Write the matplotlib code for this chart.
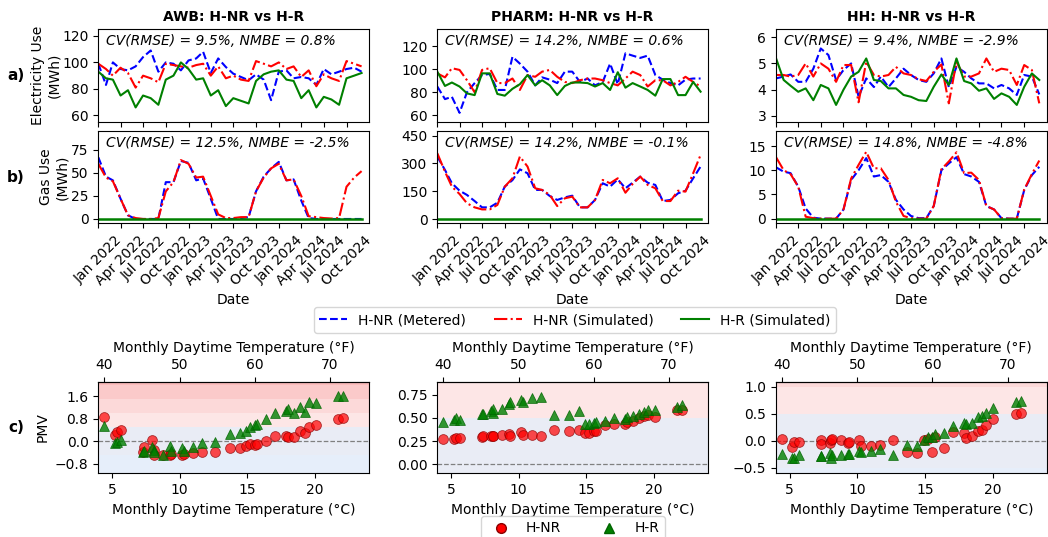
import numpy as np
import pandas as pd
import matplotlib
matplotlib.use("Agg")
import matplotlib.pyplot as plt
import matplotlib.dates as mdates
from matplotlib.lines import Line2D

plt.rcParams.update({
    "font.family": "DejaVu Sans",
    "font.size": 10,
    "axes.titlesize": 10,
    "axes.labelsize": 10,
    "xtick.labelsize": 10,
    "ytick.labelsize": 10,
    "legend.fontsize": 10,
})

# ---- monthly series, Jan 2022 .. Dec 2024 ----
dates = pd.date_range("2022-01-01", periods=36, freq="MS")

buildings = ["AWB", "PHARM", "HH"]

awb_elec_metered = [99, 83, 100, 95, 94, 97, 104, 109, 93, 100, 99, 94, 101.5, 103, 108, 92, 103, 96.5,
                    91.5, 89, 86.5, 91, 87, 71.5, 93, 94, 88, 89, 88, 83, 95, 91, 93, 95, 96, 93]
awb_elec_sim = [99, 95, 90, 96, 92, 81, 90, 88, 85, 99, 98, 97, 96, 98, 99, 90, 97, 88,
                90, 87, 86, 101, 99, 97, 100, 95, 97, 89, 94, 82, 91, 88, 86, 101, 99, 97]
awb_elec_hr = [93, 88, 87, 75, 79, 66, 75, 73, 68, 87, 90, 100, 95, 87, 88, 75, 79, 67,
               73, 71, 69, 86, 91, 93, 94, 87, 86, 73, 79, 66, 74, 72, 68, 88, 90, 92]

pharm_elec_metered = [85, 74, 76, 62, 80, 88, 95, 96, 82, 82, 111, 105, 98, 86, 93, 91, 88, 98,
                      98, 89, 92, 86, 89, 105, 87, 114, 112, 110, 112, 95, 91, 88, 86, 91, 92, 92]
pharm_elec_sim = [96.5, 93, 101, 99.5, 90.5, 80, 99.5, 101, 88, 88, 92, 82, 95, 93.5, 98, 99.5, 93.5, 89,
                  88, 90.5, 92, 92, 90.5, 88, 86, 92, 98, 95, 85, 90.5, 90.5, 86, 89, 93.5, 89, 85]
pharm_elec_hr = [98, 85.5, 88.5, 85, 79, 77.5, 96.5, 96.5, 78.5, 77, 83, 87, 95, 86, 90.5, 86, 77.5, 85.5,
                 88.5, 88.5, 88, 85, 88, 82, 97.5, 84, 88, 85, 82, 77, 91.5, 91.5, 77.5, 77.5, 89, 80.5]

hh_elec_metered = [4.43, 4.5, 4.58, 4.3, 4.3, 4.8, 5.57, 5.32, 4.37, 4.75, 5.0, 3.73, 4.43, 4.1, 4.5, 4.1, 4.43, 4.8,
                   4.56, 4.37, 4.3, 4.62, 5.19, 4.1, 4.87, 4.68, 4.43, 4.24, 4.24, 4.05, 4.18, 4.05, 3.8, 4.56, 4.5, 3.82]
hh_elec_sim = [4.56, 4.56, 4.5, 4.56, 5.0, 4.5, 5.0, 4.8, 4.3, 4.94, 4.94, 3.52, 5.06, 4.56, 4.5, 4.56, 4.87, 4.62,
               4.56, 4.4, 4.33, 4.68, 4.96, 3.48, 5.06, 4.5, 4.5, 4.62, 5.19, 4.68, 4.8, 4.75, 4.18, 4.94, 4.75, 3.48]
hh_elec_hr = [5.2, 4.37, 4.15, 3.92, 4.05, 3.6, 4.18, 4.05, 3.42, 4.0, 4.5, 4.68, 5.19, 4.37, 4.33, 4.05, 4.05, 3.8,
              3.73, 3.6, 3.57, 4.11, 4.58, 4.18, 5.19, 4.33, 4.24, 3.96, 4.05, 3.65, 3.86, 3.73, 3.42, 4.11, 4.62, 4.37]

awb_gas_metered = [67, 46, 42, 22, 4, 0, 0, 0, 0, 40, 40, 63, 61, 42, 44, 22, 0, 0,
                   0, 1, 2, 30, 46, 55, 62, 42, 43, 20, 1, 0, 0, 0, 0, 0, 0, 0]
awb_gas_sim = [60, 45, 41, 22, 4, 1, 0, 0, 1, 30, 40, 64, 60, 45, 46, 25, 5, 1,
               1, 2, 2, 30, 45, 55, 60, 42, 43, 25, 3, 2, 1, 0.5, 1, 35, 45, 52]

pharm_gas_metered = [337, 265, 193, 153, 130, 97, 63, 63, 88, 175, 210, 268, 247, 157, 157, 124, 103, 117,
                     126, 63, 63, 103, 193, 175, 214, 166, 196, 229, 196, 184, 97, 103, 139, 153, 220, 283]
pharm_gas_sim = [355, 256, 175, 135, 85, 63, 52, 52, 76, 175, 220, 337, 283, 166, 157, 130, 70, 112,
                 121, 63, 63, 103, 211, 193, 220, 142, 189, 229, 184, 166, 97, 97, 153, 148, 247, 346]

hh_gas_metered = [10.6, 9.7, 9.4, 6.6, 2.1, 0.2, 0, 0, 0, 1.9, 8.0, 10.0, 12.5, 8.7, 9.0, 7.6, 3.9, 1.9,
                  0.55, 0.1, 0.1, 2.6, 10.0, 11.4, 12.7, 9.2, 8.7, 7.6, 2.6, 1.9, 0.1, 0, 0, 5.9, 9.0, 10.7]
hh_gas_sim = [12.7, 10.0, 9.2, 6.6, 0.4, 0.1, 0, 0, 0, 1.9, 8.3, 11.1, 13.8, 10.4, 10.4, 8.0, 3.5, 0.55,
              0.1, 0, 0, 2.6, 10.2, 11.8, 13.7, 9.4, 9.5, 8.0, 2.6, 1.9, 0.1, 0, 0, 6.0, 9.2, 12.0]

elec_metrics = ["CV(RMSE) = 9.5%, NMBE = 0.8%", "CV(RMSE) = 14.2%, NMBE = 0.6%",
                "CV(RMSE) = 9.4%, NMBE = -2.9%"]
gas_metrics = ["CV(RMSE) = 12.5%, NMBE = -2.5%", "CV(RMSE) = 14.2%, NMBE = -0.1%",
               "CV(RMSE) = 14.8%, NMBE = -4.8%"]

# ---- PMV vs monthly daytime temperature ----
temp_c = [4.45, 5.2, 5.35, 5.7, 7.3, 7.35, 8.0, 8.1, 8.15, 8.8, 9.3, 9.4, 10.15, 10.3, 11.0, 11.65, 12.65,
          13.7, 14.45, 14.9, 15.2, 15.55, 15.75, 16.4, 17.05, 17.9, 18.05, 18.45, 18.9, 19.25, 19.55, 20.05,
          21.7, 22.1]

awb_pmv_hnr = [0.85, 0.23, 0.33, 0.40, -0.37, -0.19, 0.04, -0.31, -0.49, -0.49, -0.49, -0.45, -0.49, -0.46,
               -0.40, -0.37, -0.37, -0.25, -0.25, -0.17, -0.11, -0.13, -0.09, 0.0, 0.2, 0.2, 0.15, 0.14,
               0.37, 0.31, 0.5, 0.58, 0.81, 0.82]
awb_pmv_hr = [0.55, -0.07, -0.01, 0.05, -0.37, -0.33, -0.19, -0.31, -0.37, -0.49, -0.17, -0.35, -0.25, -0.33,
              -0.21, -0.07, -0.01, 0.25, 0.28, 0.38, 0.52, 0.58, 0.6, 0.78, 1.02, 1.09, 1.15, 1.0,
              1.21, 1.05, 1.39, 1.35, 1.61, 1.61]

pharm_pmv_hnr = [0.27, 0.27, 0.28, 0.28, 0.29, 0.31, 0.31, 0.31, 0.31, 0.32, 0.33, 0.31, 0.35, 0.32,
                 0.32, 0.31, 0.37, 0.36, 0.37, 0.34, 0.34, 0.36, 0.36, 0.42, 0.44, 0.43, 0.46, 0.47,
                 0.50, 0.52, 0.53, 0.51, 0.58, 0.59]
pharm_pmv_hr = [0.455, 0.48, 0.50, 0.48, 0.54, 0.54, 0.57, 0.55, 0.60, 0.60, 0.65, 0.67, 0.69, 0.67,
                0.715, 0.73, 0.53, 0.53, 0.57, 0.43, 0.43, 0.45, 0.455, 0.47, 0.50, 0.49, 0.51, 0.52,
                0.54, 0.56, 0.58, 0.59, 0.62, 0.64]

hh_pmv_hnr = [0.04, -0.12, -0.03, -0.02, 0.01, -0.06, -0.05, 0.01, 0.03, 0.02, -0.04, -0.02, 0.02, -0.10,
              -0.10, -0.08, 0.01, -0.20, -0.22, 0.01, 0.04, -0.21, 0.07, -0.14, 0.17, 0.15, 0.06, 0.09,
              0.18, 0.20, 0.29, 0.41, 0.49, 0.52]
hh_pmv_hr = [-0.25, -0.31, -0.31, -0.26, -0.28, -0.29, -0.23, -0.31, -0.26, -0.26, -0.25, -0.25, -0.18, -0.20,
             -0.18, -0.16, -0.26, -0.07, -0.10, 0.02, 0.07, 0.07, 0.12, 0.15, 0.27, 0.32, 0.31, 0.32,
             0.43, 0.45, 0.52, 0.60, 0.72, 0.74]

elec = [(awb_elec_metered, awb_elec_sim, awb_elec_hr),
        (pharm_elec_metered, pharm_elec_sim, pharm_elec_hr),
        (hh_elec_metered, hh_elec_sim, hh_elec_hr)]
gas = [(awb_gas_metered, awb_gas_sim),
       (pharm_gas_metered, pharm_gas_sim),
       (hh_gas_metered, hh_gas_sim)]
pmv = [(awb_pmv_hnr, awb_pmv_hr), (pharm_pmv_hnr, pharm_pmv_hr), (hh_pmv_hnr, hh_pmv_hr)]

elec_ylim = [(55, 125), (54, 135), (2.77, 6.3)]
elec_ticks = [[60, 80, 100, 120], [60, 80, 100, 120], [3, 4, 5, 6]]
gas_ylim = [(-4.7, 95.6), (-23, 475), (-0.96, 18.1)]
gas_ticks = [[0, 25, 50, 75], [0, 150, 300, 450], [0, 5, 10, 15]]
pmv_ylim = [(-1.14, 2.12), (-0.096, 0.89), (-0.6, 1.09)]
pmv_ticks = [[-0.8, 0.0, 0.8, 1.6], [0.0, 0.25, 0.5, 0.75], [-0.5, 0.0, 0.5, 1.0]]


def c2f(c):
    return c * 9.0 / 5.0 + 32.0


def f2c(f):
    return (f - 32.0) * 5.0 / 9.0


W, H = 1048, 537
fig = plt.figure(figsize=(W / 100, H / 100), dpi=100)

col_left = [98.3, 437.3, 776.0]
col_w = 270.7
rows = {"a": (29.3, 122.0), "b": (131.0, 223.3), "c": (381.7, 473.3)}


def add_ax(left, top, bottom):
    return fig.add_axes([left / W, 1 - bottom / H, col_w / W, (bottom - top) / H])


for j, name in enumerate(buildings):
    # electricity
    ax = add_ax(col_left[j], *rows["a"])
    m, s, r = elec[j]
    ax.plot(dates, m, color="blue", ls="--", lw=1.5)
    ax.plot(dates, s, color="red", ls="-.", lw=1.5)
    ax.plot(dates, r, color="green", ls="-", lw=1.5)
    ax.set_xlim(dates[0], pd.Timestamp("2024-12-31"))
    ax.xaxis.set_major_locator(mdates.MonthLocator(bymonth=[1, 4, 7, 10]))
    ax.tick_params(axis="x", labelbottom=False)
    ax.set_ylim(*elec_ylim[j])
    ax.set_yticks(elec_ticks[j])
    ax.set_title(f"{name}: H-NR vs H-R", fontweight="bold")
    ax.text(0.03, 0.95, elec_metrics[j], transform=ax.transAxes, style="italic",
            ha="left", va="top", fontsize=10)
    if j == 0:
        ax.set_ylabel("Electricity Use\n(MWh)", labelpad=1)

    # gas
    ax = add_ax(col_left[j], *rows["b"])
    m, s = gas[j]
    ax.plot(dates, m, color="blue", ls="--", lw=1.5)
    ax.plot(dates, s, color="red", ls="-.", lw=1.5)
    ax.plot(dates, np.zeros(len(dates)), color="green", ls="-", lw=1.8)
    ax.set_xlim(dates[0], pd.Timestamp("2024-12-31"))
    ax.xaxis.set_major_locator(mdates.MonthLocator(bymonth=[1, 4, 7, 10]))
    ax.xaxis.set_major_formatter(mdates.DateFormatter("%b %Y"))
    plt.setp(ax.get_xticklabels(), rotation=45, ha="center")
    ax.set_ylim(*gas_ylim[j])
    ax.set_yticks(gas_ticks[j])
    ax.set_xlabel("Date")
    ax.text(0.03, 0.95, gas_metrics[j], transform=ax.transAxes, style="italic",
            ha="left", va="top", fontsize=10)
    if j == 0:
        ax.set_ylabel("Gas Use\n(MWh)", labelpad=1)

    # PMV
    ax = add_ax(col_left[j], *rows["c"])
    lo, hi = pmv_ylim[j]
    ax.axhspan(-0.5, 0.5, color="#e9ecf5", zorder=0, lw=0)
    ax.axhspan(-3, -0.5, color="#e6eefa", zorder=0, lw=0)
    for t, c in zip([0.5, 1.0, 1.5, 2.0], ["#fde6e6", "#fcd9d9", "#fbcaca", "#fbbcbc"]):
        ax.axhspan(t, t + 0.5 if t < 2.0 else 3.0, color=c, zorder=0, lw=0)
    ax.axhline(0, color="grey", ls="--", lw=0.9, zorder=1)
    hnr, hr = pmv[j]
    ax.scatter(temp_c, hnr, marker="o", s=50, color="red", alpha=0.7,
               edgecolors="darkred", linewidths=0.6, zorder=3)
    ax.scatter(temp_c, hr, marker="^", s=50, color="green", alpha=0.8,
               edgecolors="darkgreen", linewidths=0.6, zorder=3)
    ax.set_xlim(4, 24)
    ax.set_ylim(lo, hi)
    ax.set_yticks(pmv_ticks[j])
    ax.set_xticks([5, 10, 15, 20])
    ax.set_xlabel("Monthly Daytime Temperature (°C)")
    sec = ax.secondary_xaxis("top", functions=(c2f, f2c))
    sec.set_xticks([40, 50, 60, 70])
    sec.set_xlabel("Monthly Daytime Temperature (°F)")
    if j == 0:
        ax.set_ylabel("PMV")

# row labels
for lab, (top, bot) in rows.items():
    fig.text(16 / W, 1 - (top + bot) / 2 / H, lab + ")", fontweight="bold",
             fontsize=11, ha="center", va="center")

# legends
line_handles = [Line2D([], [], color="blue", ls="--", lw=1.5),
                Line2D([], [], color="red", ls="-.", lw=1.5),
                Line2D([], [], color="green", ls="-", lw=1.5)]
fig.legend(line_handles, ["H-NR (Metered)", "H-NR (Simulated)", "H-R (Simulated)"],
           loc="center", bbox_to_anchor=(575 / W, 1 - 320 / H), ncol=3, frameon=True)

pt_handles = [Line2D([], [], marker="o", ls="", color="red", markeredgecolor="darkred", markersize=7),
              Line2D([], [], marker="^", ls="", color="green", markeredgecolor="darkgreen", markersize=7)]
fig.legend(pt_handles, ["H-NR", "H-R"], loc="upper center",
           bbox_to_anchor=(573 / W, 1 - 509 / H), ncol=2, frameon=True, columnspacing=2.5)

fig.savefig("out.png", dpi=100)
